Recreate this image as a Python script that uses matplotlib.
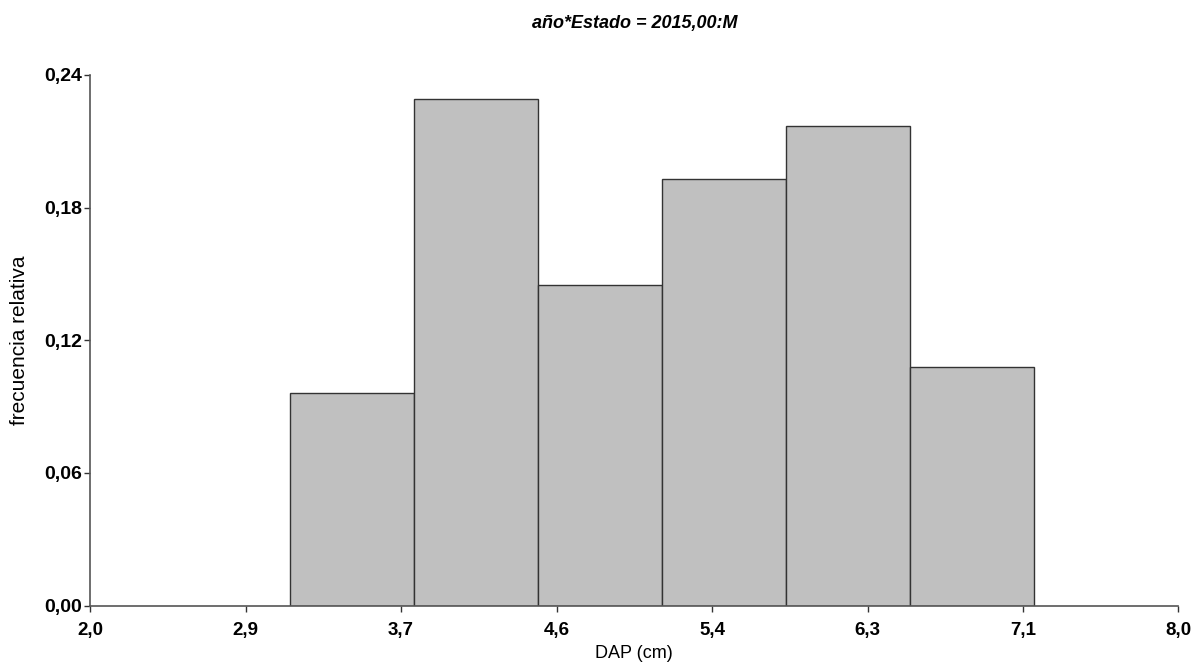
import numpy as np
import matplotlib
matplotlib.use('Agg')
from matplotlib import pyplot as plt

# DAP class edges (cm) and relative frequency of each class
bin_edges = [3.101, 3.785, 4.468, 5.152, 5.836, 6.519, 7.203]
rel_freq = [0.096, 0.229, 0.145, 0.193, 0.217, 0.108]

x_ticks = [2.0, 2.857, 3.714, 4.571, 5.429, 6.286, 7.143, 8.0]
x_labels = ['2,0', '2,9', '3,7', '4,6', '5,4', '6,3', '7,1', '8,0']
y_ticks = [0.0, 0.06, 0.12, 0.18, 0.24]
y_labels = ['0,00', '0,06', '0,12', '0,18', '0,24']

title = 'año*Estado = 2015,00:M'

fonts = ['Liberation Sans', 'DejaVu Sans']

fig = plt.figure(figsize=(11.93, 6.68), dpi=100)
ax = fig.add_axes([0.0757, 0.0933, 0.912, 0.7945])

widths = np.diff(bin_edges)
ax.bar(bin_edges[:-1], rel_freq, width=widths, align='edge',
       color='#c0c0c0', edgecolor='#333333', linewidth=1.0)

ax.set_xlim(2.0, 8.0)
ax.set_ylim(0, 0.24)

for side in ('top', 'right'):
    ax.spines[side].set_visible(False)
for side in ('left', 'bottom'):
    ax.spines[side].set_color('#555555')
    ax.spines[side].set_linewidth(1.2)

ax.set_xticks(x_ticks)
ax.set_xticklabels(x_labels, family=fonts, fontweight='bold', fontsize=13.5)
ax.set_yticks(y_ticks)
ax.set_yticklabels(y_labels, family=fonts, fontweight='bold', fontsize=14)
ax.tick_params(axis='both', direction='out', length=4, width=1, color='#333333')
ax.tick_params(axis='x', pad=8)
ax.tick_params(axis='y', pad=2)

ax.set_xlabel('DAP (cm)', family=fonts, fontsize=13, labelpad=4)
ax.set_ylabel('frecuencia relativa', family=fonts, fontsize=15, labelpad=11)
ax.set_title(title, family=fonts, fontsize=13, fontweight='bold',
             fontstyle='italic', pad=34)

fig.savefig('out.png', dpi=100, facecolor='white')
plt.close(fig)
